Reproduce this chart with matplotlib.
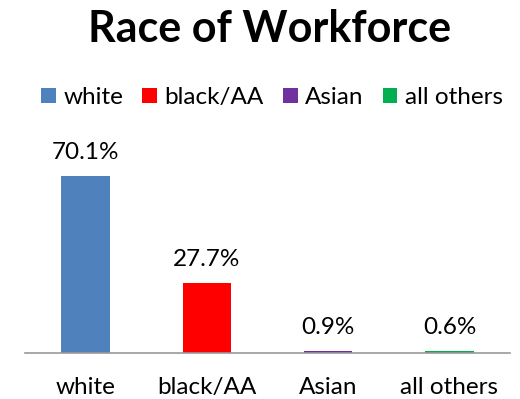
import matplotlib
matplotlib.use("Agg")
import matplotlib.pyplot as plt

# Workforce breakdown by race (percent)
categories = ["white", "black/AA", "Asian", "all others"]
shares = [70.1, 27.7, 0.9, 0.6]
colors = ["#4f81bd", "#ff0000", "#7030a0", "#00b050"]

plt.rcParams["font.family"] = ["Lato", "DejaVu Sans"]

fig = plt.figure(figsize=(5.2, 3.99), dpi=100)
ax = fig.add_axes([0.048, 0.1153, 0.933, 0.506])

bars = ax.bar(range(len(categories)), shares, width=0.4, color=colors,
              label=categories)
for i, (bar, v) in enumerate(zip(bars, shares)):
    ax.annotate(f"{v:.1f}%", (i, v), xytext=(0, 17), textcoords="offset points",
                ha="center", va="center", fontsize=17.5)

ax.set_xlim(-0.5, len(categories) - 0.5)
ax.set_ylim(0, 80)
ax.set_xticks(range(len(categories)))
ax.set_xticklabels(categories, fontsize=17.5)
ax.tick_params(axis="x", length=0, pad=17)
ax.set_yticks([])
for side in ["top", "right", "left"]:
    ax.spines[side].set_visible(False)
ax.spines["bottom"].set_color("#999999")
ax.spines["bottom"].set_linewidth(1.2)

fig.text(0.518, 0.927, "Race of Workforce", ha="center", va="center",
         fontsize=31, fontweight="bold")
fig.legend(handles=list(bars), labels=categories, loc="center",
           bbox_to_anchor=(0.523, 0.755), ncol=4, frameon=False, fontsize=17.5,
           handlelength=0.6, handleheight=0.6, handletextpad=0.3,
           columnspacing=0.8)

fig.savefig("out.png", dpi=100)
